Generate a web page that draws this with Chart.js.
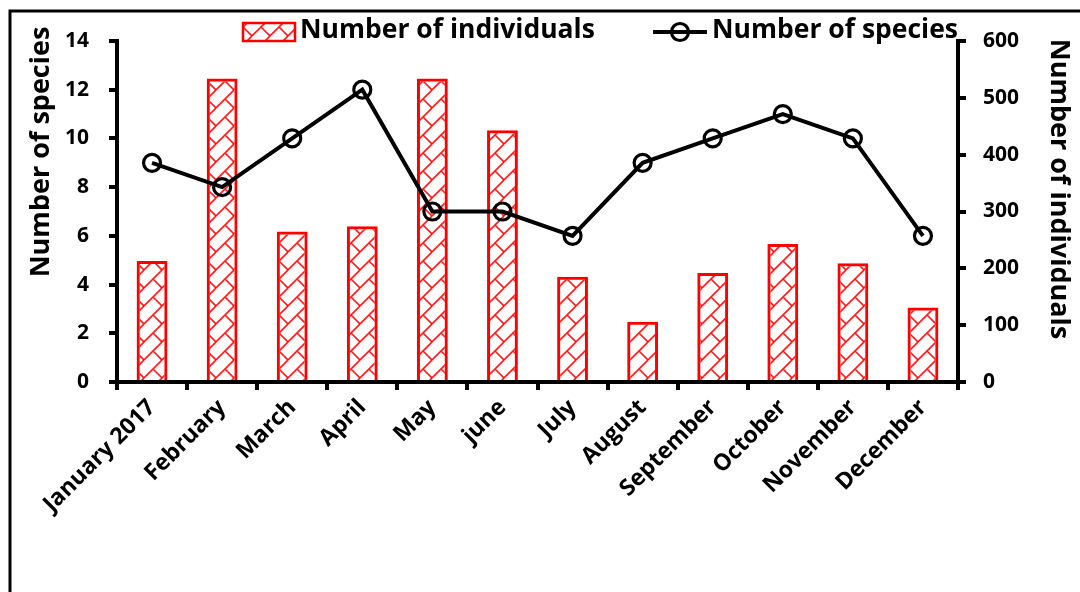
<!DOCTYPE html>
<html>
<head>
<meta charset="utf-8">
<script src="https://cdn.jsdelivr.net/npm/chart.js@4"></script>
<style>
  html, body { margin: 0; padding: 0; background: #fff; }
  #wrap { position: relative; width: 1080px; height: 592px; }
  canvas { display: block; }
</style>
</head>
<body>
<div id="wrap"><canvas id="chart" width="1080" height="592"></canvas></div>
<script>
// Monthly sampling, 2017
const months = ['January 2017', 'February', 'March', 'April', 'May', 'june',
                'July', 'August', 'September', 'October', 'November', 'December'];
const speciesCount = [9, 8, 10, 12, 7, 7, 6, 9, 10, 11, 10, 6];
const individualsCount = [213, 534, 265, 274, 534, 443, 185, 106, 192, 243, 209, 131];

const speciesTicks = [0, 2, 4, 6, 8, 10, 12, 14];
const individualsTicks = [0, 100, 200, 300, 400, 500, 600];

const FONT = '"Open Sans", "Liberation Sans", sans-serif';
const RED = '#FF0000';

// Diagonal brick hatch used to fill the bars
function makeBrickPattern(ctx) {
  const s = 18;
  const c = document.createElement('canvas');
  c.width = s; c.height = s;
  const g = c.getContext('2d');
  g.strokeStyle = 'rgba(255,0,0,0.9)';
  g.lineWidth = 1.6;
  g.lineCap = 'butt';
  for (const dx of [-s, 0, s]) {
    for (const dy of [-s, 0, s]) {
      g.beginPath();
      g.moveTo(dx + 0, dy + s);
      g.lineTo(dx + s, dy + 0);
      g.moveTo(dx + s / 2, dy + s / 2);
      g.lineTo(dx + s, dy + s);
      g.stroke();
    }
  }
  return ctx.createPattern(c, 'repeat');
}

const canvas = document.getElementById('chart');
const ctx = canvas.getContext('2d');
const brick = makeBrickPattern(ctx);

// Outer frame, legend and axis titles
const decorations = {
  id: 'decorations',
  beforeDraw(chart) {
    const c = chart.ctx;
    c.save();
    c.fillStyle = '#fff';
    c.fillRect(0, 0, chart.width, chart.height);
    c.strokeStyle = '#000';
    c.lineWidth = 3;
    c.beginPath();
    c.moveTo(10, 592);
    c.lineTo(10, 11);
    c.lineTo(1080, 11);
    c.stroke();
    c.restore();
  },
  afterDraw(chart) {
    const c = chart.ctx;
    c.save();
    c.fillStyle = '#000';
    c.font = 'bold 26.5px ' + FONT;
    c.textBaseline = 'middle';

    // legend: bars
    c.fillStyle = brick;
    c.fillRect(243, 23, 52, 18);
    c.strokeStyle = RED;
    c.lineWidth = 2.5;
    c.strokeRect(243, 23, 52, 18);
    c.fillStyle = '#000';
    c.textAlign = 'left';
    c.fillText('Number of individuals', 300, 30);

    // legend: line
    c.strokeStyle = '#000';
    c.lineWidth = 4;
    c.beginPath();
    c.moveTo(653, 32);
    c.lineTo(707, 32);
    c.stroke();
    c.lineWidth = 3.2;
    c.beginPath();
    c.arc(680, 32, 8.5, 0, Math.PI * 2);
    c.stroke();
    c.fillText('Number of species', 712, 30);

    // axis titles
    c.font = 'bold 27px ' + FONT;
    c.textAlign = 'center';
    c.save();
    c.translate(41, 152);
    c.rotate(-Math.PI / 2);
    c.fillText('Number of species', 0, 0);
    c.restore();
    c.save();
    c.translate(1059, 189);
    c.rotate(Math.PI / 2);
    c.fillText('Number of individuals', 0, 0);
    c.restore();
    c.restore();
  }
};

function draw() {
  new Chart(ctx, {
    data: {
      labels: months,
      datasets: [
        {
          type: 'line',
          label: 'Number of species',
          data: speciesCount,
          yAxisID: 'y',
          order: 0,
          borderColor: '#000',
          borderWidth: 4,
          tension: 0,
          pointStyle: 'circle',
          pointRadius: 8.5,
          pointBorderWidth: 3.2,
          pointBorderColor: '#000',
          pointBackgroundColor: 'rgba(0,0,0,0)'
        },
        {
          type: 'bar',
          label: 'Number of individuals',
          data: individualsCount,
          yAxisID: 'y1',
          order: 1,
          backgroundColor: brick,
          borderColor: RED,
          borderWidth: 3,
          barPercentage: 0.44,
          categoryPercentage: 1
        }
      ]
    },
    options: {
      responsive: false,
      animation: false,
      devicePixelRatio: 1,
      layout: { autoPadding: false, padding: { top: 41, left: 0, right: 0, bottom: 0 } },
      plugins: { legend: { display: false }, tooltip: { enabled: false }, title: { display: false } },
      scales: {
        x: {
          type: 'category',
          offset: true,
          afterFit(scale) { scale.height = 210; },
          border: { display: true, color: '#000', width: 4 },
          grid: { offset: true, drawOnChartArea: false, drawTicks: true, color: '#000', lineWidth: 4, tickLength: 8 },
          ticks: {
            autoSkip: false, maxRotation: 45, minRotation: 45, padding: 4,
            color: '#000', font: { family: FONT, size: 23, weight: 'bold' }
          }
        },
        y: {
          type: 'linear',
          position: 'left',
          min: speciesTicks[0],
          max: speciesTicks[speciesTicks.length - 1],
          afterFit(scale) { scale.width = 117; },
          afterBuildTicks(scale) { scale.ticks = speciesTicks.map(v => ({ value: v })); },
          border: { display: true, color: '#000', width: 4 },
          grid: { drawOnChartArea: false, drawTicks: true, color: '#000', lineWidth: 4, tickLength: 8 },
          ticks: { padding: 20, color: '#000', font: { family: FONT, size: 21, weight: 'bold' } }
        },
        y1: {
          type: 'linear',
          position: 'right',
          min: individualsTicks[0],
          max: individualsTicks[individualsTicks.length - 1],
          afterFit(scale) { scale.width = 122; },
          afterBuildTicks(scale) { scale.ticks = individualsTicks.map(v => ({ value: v })); },
          border: { display: true, color: '#000', width: 4 },
          grid: { drawOnChartArea: false, drawTicks: true, color: '#000', lineWidth: 4, tickLength: 8 },
          ticks: { padding: 17, color: '#000', font: { family: FONT, size: 21, weight: 'bold' } }
        }
      }
    },
    plugins: [decorations]
  });
}

if (document.fonts && document.fonts.load) {
  document.fonts.load('bold 27px "Open Sans"').then(draw, draw);
} else {
  draw();
}
</script>
</body>
</html>
